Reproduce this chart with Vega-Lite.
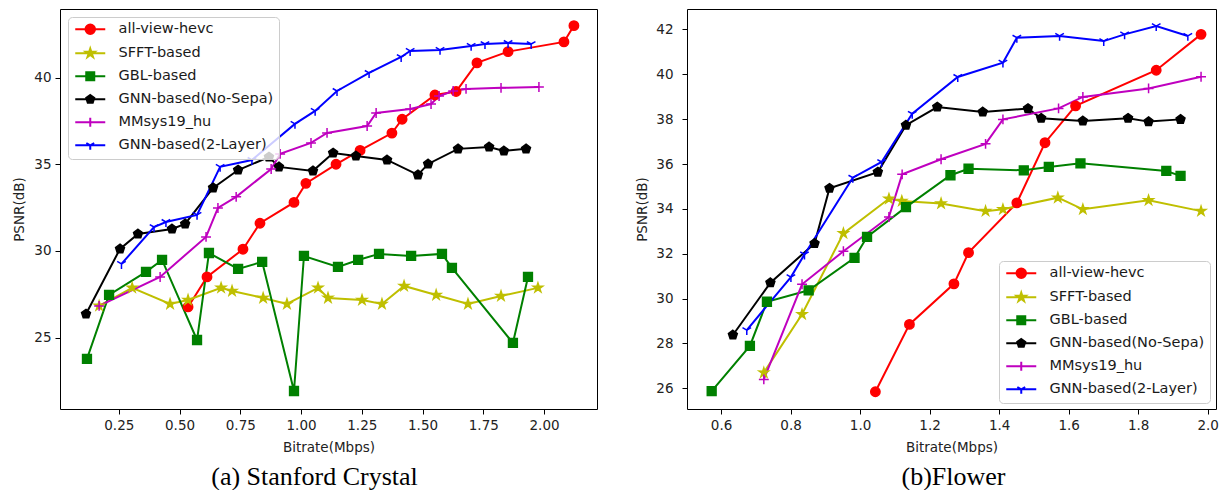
{
  "$schema": "https://vega.github.io/schema/vega-lite/v6.json",
  "padding": {"left": 12, "top": 8, "right": 0, "bottom": 0},
  "background": "white",
  "bounds": "flush",
  "spacing": 90,
  "datasets": {
    "a": [
      {"series":"all-view-hevc","bitrate":0.535,"psnr":26.77},{"series":"all-view-hevc","bitrate":0.613,"psnr":28.5},{"series":"all-view-hevc","bitrate":0.761,"psnr":30.1},{"series":"all-view-hevc","bitrate":0.831,"psnr":31.6},{"series":"all-view-hevc","bitrate":0.971,"psnr":32.8},{"series":"all-view-hevc","bitrate":1.02,"psnr":33.9},{"series":"all-view-hevc","bitrate":1.144,"psnr":35.0},{"series":"all-view-hevc","bitrate":1.243,"psnr":35.8},{"series":"all-view-hevc","bitrate":1.374,"psnr":36.8},{"series":"all-view-hevc","bitrate":1.416,"psnr":37.6},{"series":"all-view-hevc","bitrate":1.551,"psnr":39.0},{"series":"all-view-hevc","bitrate":1.638,"psnr":39.2},{"series":"all-view-hevc","bitrate":1.724,"psnr":40.85},{"series":"all-view-hevc","bitrate":1.852,"psnr":41.5},{"series":"all-view-hevc","bitrate":2.082,"psnr":42.06},{"series":"all-view-hevc","bitrate":2.123,"psnr":43.0},
      {"series":"SFFT-based","bitrate":0.169,"psnr":26.83},{"series":"SFFT-based","bitrate":0.305,"psnr":27.87},{"series":"SFFT-based","bitrate":0.461,"psnr":26.94},{"series":"SFFT-based","bitrate":0.535,"psnr":27.17},{"series":"SFFT-based","bitrate":0.671,"psnr":27.87},{"series":"SFFT-based","bitrate":0.716,"psnr":27.69},{"series":"SFFT-based","bitrate":0.844,"psnr":27.29},{"series":"SFFT-based","bitrate":0.942,"psnr":26.94},{"series":"SFFT-based","bitrate":1.07,"psnr":27.87},{"series":"SFFT-based","bitrate":1.111,"psnr":27.29},{"series":"SFFT-based","bitrate":1.251,"psnr":27.17},{"series":"SFFT-based","bitrate":1.333,"psnr":26.94},{"series":"SFFT-based","bitrate":1.424,"psnr":27.98},{"series":"SFFT-based","bitrate":1.556,"psnr":27.46},{"series":"SFFT-based","bitrate":1.687,"psnr":26.94},{"series":"SFFT-based","bitrate":1.823,"psnr":27.4},{"series":"SFFT-based","bitrate":1.975,"psnr":27.87},
      {"series":"GBL-based","bitrate":0.119,"psnr":23.77},{"series":"GBL-based","bitrate":0.21,"psnr":27.46},{"series":"GBL-based","bitrate":0.362,"psnr":28.79},{"series":"GBL-based","bitrate":0.428,"psnr":29.48},{"series":"GBL-based","bitrate":0.572,"psnr":24.86},{"series":"GBL-based","bitrate":0.621,"psnr":29.88},{"series":"GBL-based","bitrate":0.741,"psnr":28.96},{"series":"GBL-based","bitrate":0.84,"psnr":29.37},{"series":"GBL-based","bitrate":0.971,"psnr":21.92},{"series":"GBL-based","bitrate":1.012,"psnr":29.71},{"series":"GBL-based","bitrate":1.152,"psnr":29.08},{"series":"GBL-based","bitrate":1.235,"psnr":29.48},{"series":"GBL-based","bitrate":1.321,"psnr":29.83},{"series":"GBL-based","bitrate":1.453,"psnr":29.71},{"series":"GBL-based","bitrate":1.58,"psnr":29.83},{"series":"GBL-based","bitrate":1.621,"psnr":29.02},{"series":"GBL-based","bitrate":1.872,"psnr":24.69},{"series":"GBL-based","bitrate":1.934,"psnr":28.5},
      {"series":"GNN-based(No-Sepa)","bitrate":0.115,"psnr":26.36},{"series":"GNN-based(No-Sepa)","bitrate":0.255,"psnr":30.12},{"series":"GNN-based(No-Sepa)","bitrate":0.329,"psnr":30.98},{"series":"GNN-based(No-Sepa)","bitrate":0.469,"psnr":31.27},{"series":"GNN-based(No-Sepa)","bitrate":0.523,"psnr":31.56},{"series":"GNN-based(No-Sepa)","bitrate":0.638,"psnr":33.64},{"series":"GNN-based(No-Sepa)","bitrate":0.741,"psnr":34.67},{"series":"GNN-based(No-Sepa)","bitrate":0.868,"psnr":35.42},{"series":"GNN-based(No-Sepa)","bitrate":0.909,"psnr":34.85},{"series":"GNN-based(No-Sepa)","bitrate":1.049,"psnr":34.62},{"series":"GNN-based(No-Sepa)","bitrate":1.132,"psnr":35.65},{"series":"GNN-based(No-Sepa)","bitrate":1.226,"psnr":35.48},{"series":"GNN-based(No-Sepa)","bitrate":1.354,"psnr":35.25},{"series":"GNN-based(No-Sepa)","bitrate":1.481,"psnr":34.39},{"series":"GNN-based(No-Sepa)","bitrate":1.523,"psnr":35.02},{"series":"GNN-based(No-Sepa)","bitrate":1.646,"psnr":35.89},{"series":"GNN-based(No-Sepa)","bitrate":1.774,"psnr":36.0},{"series":"GNN-based(No-Sepa)","bitrate":1.835,"psnr":35.77},{"series":"GNN-based(No-Sepa)","bitrate":1.926,"psnr":35.89},
      {"series":"MMsys19_hu","bitrate":0.169,"psnr":26.83},{"series":"MMsys19_hu","bitrate":0.42,"psnr":28.5},{"series":"MMsys19_hu","bitrate":0.609,"psnr":30.81},{"series":"MMsys19_hu","bitrate":0.658,"psnr":32.48},{"series":"MMsys19_hu","bitrate":0.733,"psnr":33.12},{"series":"MMsys19_hu","bitrate":0.877,"psnr":34.73},{"series":"MMsys19_hu","bitrate":0.914,"psnr":35.6},{"series":"MMsys19_hu","bitrate":1.041,"psnr":36.23},{"series":"MMsys19_hu","bitrate":1.107,"psnr":36.81},{"series":"MMsys19_hu","bitrate":1.272,"psnr":37.21},{"series":"MMsys19_hu","bitrate":1.309,"psnr":37.96},{"series":"MMsys19_hu","bitrate":1.449,"psnr":38.19},{"series":"MMsys19_hu","bitrate":1.535,"psnr":38.48},{"series":"MMsys19_hu","bitrate":1.568,"psnr":38.94},{"series":"MMsys19_hu","bitrate":1.626,"psnr":39.23},{"series":"MMsys19_hu","bitrate":1.679,"psnr":39.35},{"series":"MMsys19_hu","bitrate":1.823,"psnr":39.41},{"series":"MMsys19_hu","bitrate":1.979,"psnr":39.46},
      {"series":"GNN-based(2-Layer)","bitrate":0.261,"psnr":29.25},{"series":"GNN-based(2-Layer)","bitrate":0.395,"psnr":31.38},{"series":"GNN-based(2-Layer)","bitrate":0.444,"psnr":31.67},{"series":"GNN-based(2-Layer)","bitrate":0.572,"psnr":32.08},{"series":"GNN-based(2-Layer)","bitrate":0.667,"psnr":34.85},{"series":"GNN-based(2-Layer)","bitrate":0.798,"psnr":35.25},{"series":"GNN-based(2-Layer)","bitrate":0.975,"psnr":37.33},{"series":"GNN-based(2-Layer)","bitrate":1.058,"psnr":38.08},{"series":"GNN-based(2-Layer)","bitrate":1.148,"psnr":39.23},{"series":"GNN-based(2-Layer)","bitrate":1.28,"psnr":40.27},{"series":"GNN-based(2-Layer)","bitrate":1.412,"psnr":41.19},{"series":"GNN-based(2-Layer)","bitrate":1.449,"psnr":41.54},{"series":"GNN-based(2-Layer)","bitrate":1.572,"psnr":41.6},{"series":"GNN-based(2-Layer)","bitrate":1.7,"psnr":41.83},{"series":"GNN-based(2-Layer)","bitrate":1.757,"psnr":41.94},{"series":"GNN-based(2-Layer)","bitrate":1.852,"psnr":42.0},{"series":"GNN-based(2-Layer)","bitrate":1.947,"psnr":41.94}
    ],
    "b": [
      {"series":"all-view-hevc","bitrate":1.044,"psnr":25.85},{"series":"all-view-hevc","bitrate":1.142,"psnr":28.85},{"series":"all-view-hevc","bitrate":1.27,"psnr":30.66},{"series":"all-view-hevc","bitrate":1.312,"psnr":32.05},{"series":"all-view-hevc","bitrate":1.451,"psnr":34.27},{"series":"all-view-hevc","bitrate":1.532,"psnr":36.95},{"series":"all-view-hevc","bitrate":1.62,"psnr":38.59},{"series":"all-view-hevc","bitrate":1.852,"psnr":40.18},{"series":"all-view-hevc","bitrate":1.981,"psnr":41.78},
      {"series":"SFFT-based","bitrate":0.723,"psnr":26.7},{"series":"SFFT-based","bitrate":0.833,"psnr":29.3},{"series":"SFFT-based","bitrate":0.952,"psnr":32.91},{"series":"SFFT-based","bitrate":1.083,"psnr":34.45},{"series":"SFFT-based","bitrate":1.12,"psnr":34.35},{"series":"SFFT-based","bitrate":1.233,"psnr":34.24},{"series":"SFFT-based","bitrate":1.361,"psnr":33.9},{"series":"SFFT-based","bitrate":1.411,"psnr":33.98},{"series":"SFFT-based","bitrate":1.569,"psnr":34.5},{"series":"SFFT-based","bitrate":1.641,"psnr":33.98},{"series":"SFFT-based","bitrate":1.83,"psnr":34.38},{"series":"SFFT-based","bitrate":1.981,"psnr":33.9},
      {"series":"GBL-based","bitrate":0.573,"psnr":25.88},{"series":"GBL-based","bitrate":0.683,"psnr":27.89},{"series":"GBL-based","bitrate":0.732,"psnr":29.86},{"series":"GBL-based","bitrate":0.852,"psnr":30.37},{"series":"GBL-based","bitrate":0.984,"psnr":31.82},{"series":"GBL-based","bitrate":1.02,"psnr":32.75},{"series":"GBL-based","bitrate":1.132,"psnr":34.08},{"series":"GBL-based","bitrate":1.26,"psnr":35.5},{"series":"GBL-based","bitrate":1.312,"psnr":35.79},{"series":"GBL-based","bitrate":1.471,"psnr":35.72},{"series":"GBL-based","bitrate":1.543,"psnr":35.87},{"series":"GBL-based","bitrate":1.634,"psnr":36.03},{"series":"GBL-based","bitrate":1.881,"psnr":35.69},{"series":"GBL-based","bitrate":1.922,"psnr":35.47},
      {"series":"GNN-based(No-Sepa)","bitrate":0.634,"psnr":28.38},{"series":"GNN-based(No-Sepa)","bitrate":0.742,"psnr":30.71},{"series":"GNN-based(No-Sepa)","bitrate":0.869,"psnr":32.46},{"series":"GNN-based(No-Sepa)","bitrate":0.912,"psnr":34.92},{"series":"GNN-based(No-Sepa)","bitrate":1.051,"psnr":35.64},{"series":"GNN-based(No-Sepa)","bitrate":1.132,"psnr":37.73},{"series":"GNN-based(No-Sepa)","bitrate":1.222,"psnr":38.54},{"series":"GNN-based(No-Sepa)","bitrate":1.353,"psnr":38.32},{"series":"GNN-based(No-Sepa)","bitrate":1.483,"psnr":38.47},{"series":"GNN-based(No-Sepa)","bitrate":1.521,"psnr":38.04},{"series":"GNN-based(No-Sepa)","bitrate":1.641,"psnr":37.92},{"series":"GNN-based(No-Sepa)","bitrate":1.771,"psnr":38.04},{"series":"GNN-based(No-Sepa)","bitrate":1.83,"psnr":37.89},{"series":"GNN-based(No-Sepa)","bitrate":1.922,"psnr":37.99},
      {"series":"MMsys19_hu","bitrate":0.723,"psnr":26.4},{"series":"MMsys19_hu","bitrate":0.833,"psnr":30.64},{"series":"MMsys19_hu","bitrate":0.952,"psnr":32.11},{"series":"MMsys19_hu","bitrate":1.083,"psnr":33.64},{"series":"MMsys19_hu","bitrate":1.121,"psnr":35.54},{"series":"MMsys19_hu","bitrate":1.233,"psnr":36.21},{"series":"MMsys19_hu","bitrate":1.361,"psnr":36.9},{"series":"MMsys19_hu","bitrate":1.411,"psnr":37.99},{"series":"MMsys19_hu","bitrate":1.571,"psnr":38.48},{"series":"MMsys19_hu","bitrate":1.641,"psnr":38.99},{"series":"MMsys19_hu","bitrate":1.83,"psnr":39.37},{"series":"MMsys19_hu","bitrate":1.981,"psnr":39.89},
      {"series":"GNN-based(2-Layer)","bitrate":0.674,"psnr":28.6},{"series":"GNN-based(2-Layer)","bitrate":0.801,"psnr":30.96},{"series":"GNN-based(2-Layer)","bitrate":0.84,"psnr":31.97},{"series":"GNN-based(2-Layer)","bitrate":0.979,"psnr":35.39},{"series":"GNN-based(2-Layer)","bitrate":1.062,"psnr":36.09},{"series":"GNN-based(2-Layer)","bitrate":1.15,"psnr":38.24},{"series":"GNN-based(2-Layer)","bitrate":1.281,"psnr":39.88},{"series":"GNN-based(2-Layer)","bitrate":1.411,"psnr":40.52},{"series":"GNN-based(2-Layer)","bitrate":1.451,"psnr":41.63},{"series":"GNN-based(2-Layer)","bitrate":1.574,"psnr":41.71},{"series":"GNN-based(2-Layer)","bitrate":1.701,"psnr":41.48},{"series":"GNN-based(2-Layer)","bitrate":1.761,"psnr":41.78},{"series":"GNN-based(2-Layer)","bitrate":1.852,"psnr":42.15},{"series":"GNN-based(2-Layer)","bitrate":1.943,"psnr":41.71}
    ]
  },
  "resolve": {
    "scale": {"x": "independent", "y": "independent", "color": "independent"},
    "legend": {"color": "independent"}
  },
  "hconcat": [
    {
      "width": 537,
      "height": 400,
      "data": {"name": "a"},
      "title": {"text": "(a) Stanford Crystal", "orient": "bottom", "font": "Liberation Serif", "fontSize": 26, "fontWeight": "normal", "color": "#000000", "offset": 10, "dx": -14},
      "encoding": {
        "x": {"field": "bitrate", "type": "quantitative", "title": "Bitrate(Mbps)", "scale": {"domain": [0.008, 2.218], "nice": false, "zero": false}, "axis": {"values": [0.25, 0.5, 0.75, 1.0, 1.25, 1.5, 1.75, 2.0], "format": ".2f"}},
        "y": {"field": "psnr", "type": "quantitative", "title": "PSNR(dB)", "scale": {"domain": [20.88, 43.96], "nice": false, "zero": false}, "axis": {"values": [25, 30, 35, 40], "format": "d", "labelPadding": 4, "titlePadding": 7}}
      },
      "layer": [
        {
          "mark": {"type": "line", "strokeWidth": 2},
          "encoding": {
            "color": {"field": "series", "type": "nominal", "scale": {"domain": ["all-view-hevc", "SFFT-based", "GBL-based", "GNN-based(No-Sepa)", "MMsys19_hu", "GNN-based(2-Layer)"], "range": ["#ff0000", "#bfbf00", "#008000", "#000000", "#bf00bf", "#0000ff"]},
              "legend": {"title": null, "orient": "top-left", "offset": 8, "symbolSize": 100, "symbolStrokeWidth": 2, "labelFontSize": 14.5, "labelColor": "#1a1a1a", "labelLimit": 400, "labelOffset": 31, "fillColor": "rgba(255,255,255,0.8)", "strokeColor": "#cccccc", "cornerRadius": 4, "padding": 5, "rowPadding": 6,
                "encode": {"symbols": {"update": {
                  "size": {"value": 100},
                  "strokeWidth": {"value": 2},
                  "opacity": {"value": 1},
                  "stroke": {"signal": "{'all-view-hevc':'#ff0000','SFFT-based':'#bfbf00','GBL-based':'#008000','GNN-based(No-Sepa)':'#000000','MMsys19_hu':'#bf00bf','GNN-based(2-Layer)':'#0000ff'}[datum.value]"},
                  "fill": {"signal": "{'all-view-hevc':'#ff0000','SFFT-based':'#bfbf00','GBL-based':'#008000','GNN-based(No-Sepa)':'#000000','MMsys19_hu':'#bf00bf','GNN-based(2-Layer)':'#0000ff'}[datum.value]"},
                  "shape": {"signal": "{'all-view-hevc':'M-1,0H5M1.05,0A0.95,0.95 0 1,0 2.95,0A0.95,0.95 0 1,0 1.05,0Z','SFFT-based':'M-1,0H5M2,-0.95L2.212,-0.292L2.903,-0.294L2.343,0.111L2.559,0.769L2,0.361L1.441,0.769L1.657,0.111L1.097,-0.294L1.788,-0.292Z','GBL-based':'M-1,0H5M1.2,-0.8H2.8V0.8H1.2Z','GNN-based(No-Sepa)':'M-1,0H5M2,-0.85L2.808,-0.263L2.5,0.688L1.5,0.688L1.192,-0.263Z','MMsys19_hu':'M-1,0H5M2,-0.9V0.9','GNN-based(2-Layer)':'M-1,0H5M2,0V0.9M2,0L1.22,-0.45M2,0L2.78,-0.45'}[datum.value]"}
                }}}
              }}
          }
        },
        {"transform": [{"filter": "datum.series === 'all-view-hevc'"}], "mark": {"type": "point", "filled": true, "fill": "#ff0000", "stroke": "#ff0000", "strokeWidth": 1.5, "size": 121, "opacity": 1, "shape": "M-0.85,0A0.85,0.85 0 1,0 0.85,0A0.85,0.85 0 1,0 -0.85,0Z"}},
        {"transform": [{"filter": "datum.series === 'SFFT-based'"}], "mark": {"type": "point", "filled": true, "fill": "#bfbf00", "stroke": "#bfbf00", "strokeWidth": 1.5, "size": 121, "opacity": 1, "shape": "M0,-0.9L0.2,-0.276L0.856,-0.278L0.325,0.105L0.529,0.728L0,0.342L-0.529,0.728L-0.325,0.105L-0.856,-0.278L-0.2,-0.276Z"}},
        {"transform": [{"filter": "datum.series === 'GBL-based'"}], "mark": {"type": "point", "filled": true, "fill": "#008000", "stroke": "#008000", "strokeWidth": 1.5, "size": 121, "opacity": 1, "shape": "M-0.8,-0.8H0.8V0.8H-0.8Z"}},
        {"transform": [{"filter": "datum.series === 'GNN-based(No-Sepa)'"}], "mark": {"type": "point", "filled": true, "fill": "#000000", "stroke": "#000000", "strokeWidth": 1.5, "size": 121, "opacity": 1, "shape": "M0,-0.85L0.808,-0.263L0.5,0.688L-0.5,0.688L-0.808,-0.263Z"}},
        {"transform": [{"filter": "datum.series === 'MMsys19_hu'"}], "mark": {"type": "point", "filled": true, "fill": "#bf00bf", "stroke": "#bf00bf", "strokeWidth": 1.5, "size": 121, "opacity": 1, "shape": "M-0.9,0H0.9M0,-0.9V0.9"}},
        {"transform": [{"filter": "datum.series === 'GNN-based(2-Layer)'"}], "mark": {"type": "point", "filled": true, "fill": "#0000ff", "stroke": "#0000ff", "strokeWidth": 1.5, "size": 121, "opacity": 1, "shape": "M0,0V0.9M0,0L-0.78,-0.45M0,0L0.78,-0.45"}}
      ]
    },
    {
      "width": 529,
      "height": 400,
      "data": {"name": "b"},
      "title": {"text": "(b)Flower", "orient": "bottom", "font": "Liberation Serif", "fontSize": 26, "fontWeight": "normal", "color": "#000000", "offset": 10, "dx": 2},
      "encoding": {
        "x": {"field": "bitrate", "type": "quantitative", "title": "Bitrate(Mbps)", "scale": {"domain": [0.502, 2.024], "nice": false, "zero": false}, "axis": {"values": [0.6, 0.8, 1.0, 1.2, 1.4, 1.6, 1.8, 2.0], "format": ".1f"}},
        "y": {"field": "psnr", "type": "quantitative", "title": "PSNR(dB)", "scale": {"domain": [25.08, 42.91], "nice": false, "zero": false}, "axis": {"values": [26, 28, 30, 32, 34, 36, 38, 40, 42], "format": "d", "labelPadding": 9, "titlePadding": 6}}
      },
      "layer": [
        {
          "mark": {"type": "line", "strokeWidth": 2},
          "encoding": {
            "color": {"field": "series", "type": "nominal", "scale": {"domain": ["all-view-hevc", "SFFT-based", "GBL-based", "GNN-based(No-Sepa)", "MMsys19_hu", "GNN-based(2-Layer)"], "range": ["#ff0000", "#bfbf00", "#008000", "#000000", "#bf00bf", "#0000ff"]},
              "legend": {"title": null, "orient": "bottom-right", "offset": 6, "symbolSize": 100, "symbolStrokeWidth": 2, "labelFontSize": 14.5, "labelColor": "#1a1a1a", "labelLimit": 400, "labelOffset": 31, "fillColor": "rgba(255,255,255,0.8)", "strokeColor": "#cccccc", "cornerRadius": 4, "padding": 5, "rowPadding": 6,
                "encode": {"symbols": {"update": {
                  "size": {"value": 100},
                  "strokeWidth": {"value": 2},
                  "opacity": {"value": 1},
                  "stroke": {"signal": "{'all-view-hevc':'#ff0000','SFFT-based':'#bfbf00','GBL-based':'#008000','GNN-based(No-Sepa)':'#000000','MMsys19_hu':'#bf00bf','GNN-based(2-Layer)':'#0000ff'}[datum.value]"},
                  "fill": {"signal": "{'all-view-hevc':'#ff0000','SFFT-based':'#bfbf00','GBL-based':'#008000','GNN-based(No-Sepa)':'#000000','MMsys19_hu':'#bf00bf','GNN-based(2-Layer)':'#0000ff'}[datum.value]"},
                  "shape": {"signal": "{'all-view-hevc':'M-1,0H5M1.05,0A0.95,0.95 0 1,0 2.95,0A0.95,0.95 0 1,0 1.05,0Z','SFFT-based':'M-1,0H5M2,-0.95L2.212,-0.292L2.903,-0.294L2.343,0.111L2.559,0.769L2,0.361L1.441,0.769L1.657,0.111L1.097,-0.294L1.788,-0.292Z','GBL-based':'M-1,0H5M1.2,-0.8H2.8V0.8H1.2Z','GNN-based(No-Sepa)':'M-1,0H5M2,-0.85L2.808,-0.263L2.5,0.688L1.5,0.688L1.192,-0.263Z','MMsys19_hu':'M-1,0H5M2,-0.9V0.9','GNN-based(2-Layer)':'M-1,0H5M2,0V0.9M2,0L1.22,-0.45M2,0L2.78,-0.45'}[datum.value]"}
                }}}
              }}
          }
        },
        {"transform": [{"filter": "datum.series === 'all-view-hevc'"}], "mark": {"type": "point", "filled": true, "fill": "#ff0000", "stroke": "#ff0000", "strokeWidth": 1.5, "size": 121, "opacity": 1, "shape": "M-0.85,0A0.85,0.85 0 1,0 0.85,0A0.85,0.85 0 1,0 -0.85,0Z"}},
        {"transform": [{"filter": "datum.series === 'SFFT-based'"}], "mark": {"type": "point", "filled": true, "fill": "#bfbf00", "stroke": "#bfbf00", "strokeWidth": 1.5, "size": 121, "opacity": 1, "shape": "M0,-0.9L0.2,-0.276L0.856,-0.278L0.325,0.105L0.529,0.728L0,0.342L-0.529,0.728L-0.325,0.105L-0.856,-0.278L-0.2,-0.276Z"}},
        {"transform": [{"filter": "datum.series === 'GBL-based'"}], "mark": {"type": "point", "filled": true, "fill": "#008000", "stroke": "#008000", "strokeWidth": 1.5, "size": 121, "opacity": 1, "shape": "M-0.8,-0.8H0.8V0.8H-0.8Z"}},
        {"transform": [{"filter": "datum.series === 'GNN-based(No-Sepa)'"}], "mark": {"type": "point", "filled": true, "fill": "#000000", "stroke": "#000000", "strokeWidth": 1.5, "size": 121, "opacity": 1, "shape": "M0,-0.85L0.808,-0.263L0.5,0.688L-0.5,0.688L-0.808,-0.263Z"}},
        {"transform": [{"filter": "datum.series === 'MMsys19_hu'"}], "mark": {"type": "point", "filled": true, "fill": "#bf00bf", "stroke": "#bf00bf", "strokeWidth": 1.5, "size": 121, "opacity": 1, "shape": "M-0.9,0H0.9M0,-0.9V0.9"}},
        {"transform": [{"filter": "datum.series === 'GNN-based(2-Layer)'"}], "mark": {"type": "point", "filled": true, "fill": "#0000ff", "stroke": "#0000ff", "strokeWidth": 1.5, "size": 121, "opacity": 1, "shape": "M0,0V0.9M0,0L-0.78,-0.45M0,0L0.78,-0.45"}}
      ]
    }
  ],
  "config": {
    "view": {"stroke": "#000000", "strokeWidth": 1},
    "axis": {"domain": false, "grid": false, "tickColor": "#000000", "tickSize": 5, "tickWidth": 1, "labelFont": "DejaVu Sans", "labelFontSize": 13.5, "labelColor": "#222222", "titleFont": "DejaVu Sans", "titleFontSize": 13.5, "titleFontWeight": "normal", "titleColor": "#222222"},
    "axisX": {"labelPadding": 4, "titlePadding": 9},
    "legend": {"labelFont": "DejaVu Sans"}
  }
}
